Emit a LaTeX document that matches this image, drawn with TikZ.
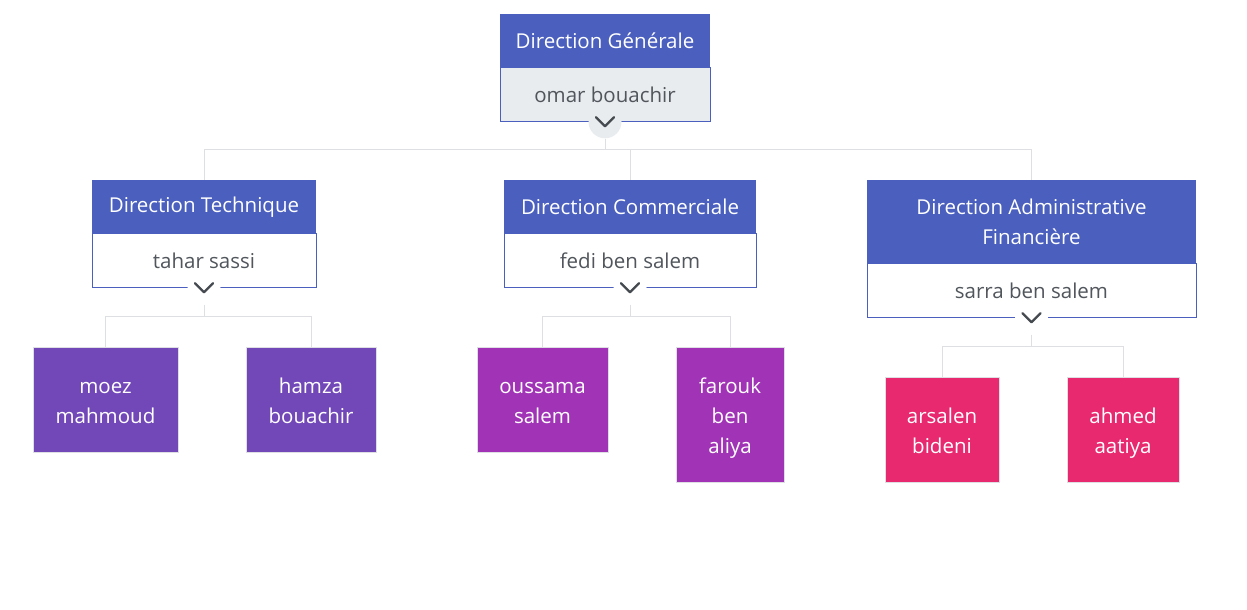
\documentclass[tikz,border=0pt]{standalone}
\usepackage{fontspec}
\setmainfont{Open Sans}
\usetikzlibrary{positioning}
\definecolor{headBlue}{HTML}{4A5FBE}
\definecolor{bodyGray}{HTML}{E9ECEF}
\definecolor{nameGray}{HTML}{51565C}
\definecolor{chevGray}{HTML}{454A50}
\definecolor{lineGray}{HTML}{DDDFE2}
\definecolor{leafPurple}{HTML}{7248B9}
\definecolor{leafViolet}{HTML}{A134B6}
\definecolor{leafPink}{HTML}{E9296F}
\tikzset{
  txt/.style={font=\fontsize{20.5}{30}\selectfont},
  head/.style={txt, fill=headBlue, text=white, inner sep=0pt, align=center, anchor=north},
  body/.style={txt, draw=headBlue, text=nameGray, inner sep=0pt, anchor=north, minimum height=54pt},
  leaf/.style={txt, draw=lineGray, text=white, inner sep=0pt, align=center, anchor=north,
    text height=51pt, text depth=3pt},
  chev/.style={circle, minimum size=33pt, inner sep=0pt},
  edge/.style={draw=lineGray, line width=0.8pt},
}
\newcommand{\chevmark}[1]{%
  \draw[chevGray, line width=2.3pt, line cap=round, line join=round]
    ([shift={(-9,-4.5)}]#1.center) -- ([shift={(0,4.5)}]#1.center) -- ([shift={(9,-4.5)}]#1.center);}
\begin{document}
\begin{tikzpicture}[x=1pt,y=-1pt]
  \useasboundingbox[fill=white] (0,0) rectangle (1247,610);
  % top level
  \node[head, minimum width=210pt, minimum height=53pt] (GenHead) at (605,14) {Direction Générale};
  \node[body, fill=bodyGray, minimum width=210pt] (GenBody) at (GenHead.south) {omar bouachir};
  % second level
  \node[head, minimum width=224pt, minimum height=53pt] (TechHead) at (204,180) {Direction Technique};
  \node[body, fill=white, minimum width=224pt] (TechBody) at (TechHead.south) {tahar sassi};
  \node[head, minimum width=252pt, minimum height=53pt] (ComHead) at (630,180) {Direction Commerciale};
  \node[body, fill=white, minimum width=252pt] (ComBody) at (ComHead.south) {fedi ben salem};
  \node[head, minimum width=329pt, minimum height=83pt] (AdmHead) at (1031.5,180) {Direction Administrative\\Financière};
  \node[body, fill=white, minimum width=329pt] (AdmBody) at (AdmHead.south) {sarra ben salem};
  % leaves
  \node[leaf, fill=leafPurple, minimum width=145pt, minimum height=105pt] (Moez) at (105.5,347) {moez\\mahmoud};
  \node[leaf, fill=leafPurple, minimum width=130pt, minimum height=105pt] (Hamza) at (311,347) {hamza\\bouachir};
  \node[leaf, fill=leafViolet, minimum width=131pt, minimum height=105pt] (Oussama) at (542.5,347) {oussama\\salem};
  \node[leaf, fill=leafViolet, minimum width=108pt, minimum height=135pt, text height=81pt] (Farouk) at (730,347) {farouk\\ben\\aliya};
  \node[leaf, fill=leafPink, minimum width=114pt, minimum height=105pt] (Arsalen) at (942,377) {arsalen\\bideni};
  \node[leaf, fill=leafPink, minimum width=112pt, minimum height=105pt] (Ahmed) at (1123,377) {ahmed\\aatiya};
  % collapse buttons
  \node[chev, fill=bodyGray] (GenChev) at (GenBody.south) {};
  \node[chev, fill=white] (TechChev) at (TechBody.south) {};
  \node[chev, fill=white] (ComChev) at (ComBody.south) {};
  \node[chev, fill=white] (AdmChev) at (AdmBody.south) {};
  \chevmark{GenChev}
  \chevmark{TechChev}
  \chevmark{ComChev}
  \chevmark{AdmChev}
  % connectors
  \coordinate (GenBus) at (605,149);
  \coordinate (TechBus) at (204,316);
  \coordinate (ComBus) at (630,316);
  \coordinate (AdmBus) at (1031.5,346);
  \path[edge] (GenChev.south) -- (GenBus);
  \path[edge] (GenBus) -| (TechHead.north);
  \path[edge] (GenBus) -| (ComHead.north);
  \path[edge] (GenBus) -| (AdmHead.north);
  \path[edge] (TechChev.south) -- (TechBus);
  \path[edge] (TechBus) -| (Moez.north);
  \path[edge] (TechBus) -| (Hamza.north);
  \path[edge] (ComChev.south) -- (ComBus);
  \path[edge] (ComBus) -| (Oussama.north);
  \path[edge] (ComBus) -| (Farouk.north);
  \path[edge] (AdmChev.south) -- (AdmBus);
  \path[edge] (AdmBus) -| (Arsalen.north);
  \path[edge] (AdmBus) -| (Ahmed.north);
\end{tikzpicture}
\end{document}
